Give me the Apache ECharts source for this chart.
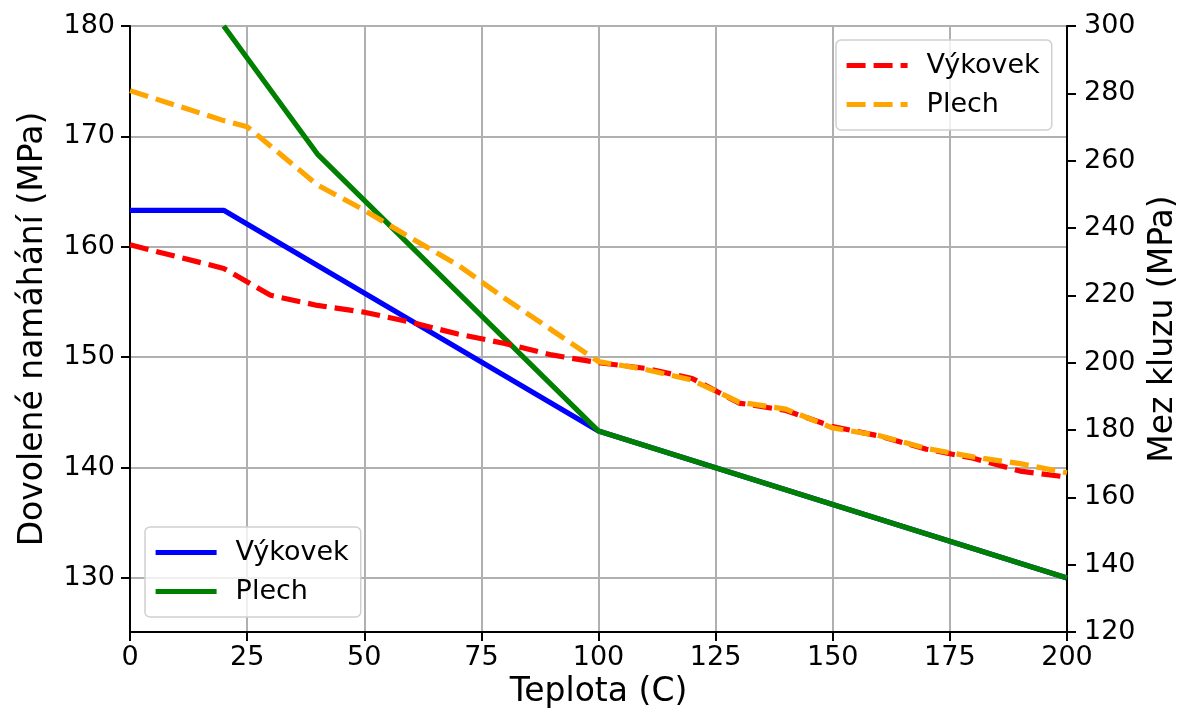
<!DOCTYPE html>
<html>
<head>
<meta charset="utf-8">
<script src="https://cdn.jsdelivr.net/npm/echarts@6/dist/echarts.min.js"></script>
<style>
html,body{margin:0;padding:0;background:#fff;}
#chart{width:1182px;height:722px;}
</style>
</head>
<body>
<div id="chart"></div>
<script>
// ---- data ----
const forgingAllowT = [0, 20, 100, 200];
const forgingAllowV = [163.3, 163.3, 143.3, 130];
const plateAllowT = [20, 40, 100, 200];
const plateAllowV = [180, 168.4, 143.3, 130];

const forgingYieldT = [0, 20, 30, 40, 50, 60, 70, 80, 90, 100, 110, 120, 130, 140, 150, 160, 170, 180, 190, 200];
const forgingYieldV = [235, 228, 220, 217, 215, 212, 208.5, 205.7, 202.3, 200, 198.3, 195.3, 188, 185.8, 181, 178.2, 174.3, 171.6, 167.8, 166];
const plateYieldT = [0, 20, 25, 40, 50, 60, 70, 80, 90, 100, 110, 120, 130, 140, 150, 160, 170, 180, 190, 200];
const plateYieldV = [280.8, 271.9, 270.1, 252.8, 245.3, 237, 229, 219.1, 209.7, 200.3, 198, 194.8, 188.3, 186.2, 180.6, 178.3, 174.5, 172, 170, 167.3];

const leftTicks = [130, 140, 150, 160, 170, 180];
const rightTicks = [120, 140, 160, 180, 200, 220, 240, 260, 280, 300];
const xTicks = [0, 25, 50, 75, 100, 125, 150, 175, 200];

const nameForging = 'Výkovek';
const namePlate = 'Plech';
const yieldSuffix = ' – mez kluzu';

function pairs(t, v) { return t.map((x, i) => [x, v[i]]); }

const FONT = 'DejaVu Sans';
const chart = echarts.init(document.getElementById('chart'), null, {renderer: 'canvas'});

const lineW = 5.2;
const dash = [19, 8];

const legendCommon = {
  orient: 'vertical',
  itemWidth: 61, itemHeight: 27, itemGap: 12,
  padding: [12, 12, 12, 8],
  backgroundColor: 'rgba(255,255,255,0.8)',
  borderColor: '#d0d0d0', borderWidth: 1.5, borderRadius: 5,
  itemStyle: {opacity: 0},
  lineStyle: {width: lineW},
  textStyle: {fontFamily: FONT, fontSize: 27, color: '#000', padding: [0, 0, 0, 14]},
  selectedMode: false
};

chart.setOption({
  animation: false,
  backgroundColor: '#ffffff',
  textStyle: {fontFamily: FONT},
  grid: {
    left: 130, right: 115, top: 26, bottom: 90,
    containLabel: false, outerBoundsMode: 'none',
    show: true, borderColor: '#000', borderWidth: 2, backgroundColor: 'transparent'
  },
  legend: [
    Object.assign({}, legendCommon, {
      data: [nameForging, namePlate],
      left: 145, top: 527
    }),
    Object.assign({}, legendCommon, {
      data: [nameForging + yieldSuffix, namePlate + yieldSuffix],
      formatter: n => n.replace(yieldSuffix, ''),
      left: 836, top: 40
    })
  ],
  xAxis: {
    type: 'value', min: xTicks[0], max: xTicks[xTicks.length - 1], interval: 25,
    name: 'Teplota (C)', nameLocation: 'middle', nameGap: 36,
    nameTextStyle: {fontFamily: FONT, fontSize: 33, color: '#000'},
    axisLine: {show: true, onZero: false, lineStyle: {color: '#000', width: 2}},
    axisTick: {show: true, inside: false, length: 9, lineStyle: {color: '#000', width: 2}},
    axisLabel: {fontFamily: FONT, fontSize: 27, color: '#000', margin: 12},
    splitLine: {show: true, lineStyle: {color: '#b0b0b0', width: 2}}
  },
  yAxis: [
    {
      type: 'value', position: 'left', min: 125.1, max: 180,
      name: 'Dovolené namáhání (MPa)', nameLocation: 'middle', nameGap: 80, nameRotate: 90,
      nameTextStyle: {fontFamily: FONT, fontSize: 33, color: '#000'},
      axisLine: {show: true, onZero: false, lineStyle: {color: '#000', width: 2}},
      axisTick: {show: true, length: 9, lineStyle: {color: '#000', width: 2}, customValues: leftTicks},
      axisLabel: {fontFamily: FONT, fontSize: 27, color: '#000', margin: 15, customValues: leftTicks},
      splitLine: {show: true, lineStyle: {color: '#b0b0b0', width: 2}}
    },
    {
      type: 'value', position: 'right', min: rightTicks[0], max: rightTicks[rightTicks.length - 1], interval: 20,
      name: 'Mez kluzu (MPa)', nameLocation: 'middle', nameGap: 80, nameRotate: 90,
      nameTextStyle: {fontFamily: FONT, fontSize: 33, color: '#000'},
      axisLine: {show: true, onZero: false, lineStyle: {color: '#000', width: 2}},
      axisTick: {show: true, length: 9, lineStyle: {color: '#000', width: 2}},
      axisLabel: {fontFamily: FONT, fontSize: 27, color: '#000', margin: 17},
      splitLine: {show: false}
    }
  ],
  series: [
    {
      name: nameForging, type: 'line', yAxisIndex: 0, data: pairs(forgingAllowT, forgingAllowV),
      showSymbol: false, symbol: 'none', clip: true,
      lineStyle: {color: '#0000ff', width: lineW}, itemStyle: {color: '#0000ff'}, z: 2
    },
    {
      name: namePlate, type: 'line', yAxisIndex: 0, data: pairs(plateAllowT, plateAllowV),
      showSymbol: false, symbol: 'none', clip: true,
      lineStyle: {color: '#008000', width: lineW}, itemStyle: {color: '#008000'}, z: 3
    },
    {
      name: nameForging + yieldSuffix, type: 'line', yAxisIndex: 1, data: pairs(forgingYieldT, forgingYieldV),
      showSymbol: false, symbol: 'none', clip: true,
      lineStyle: {color: '#ff0000', width: lineW, type: dash}, itemStyle: {color: '#ff0000'}, z: 4
    },
    {
      name: namePlate + yieldSuffix, type: 'line', yAxisIndex: 1, data: pairs(plateYieldT, plateYieldV),
      showSymbol: false, symbol: 'none', clip: true,
      lineStyle: {color: '#ffa500', width: lineW, type: dash}, itemStyle: {color: '#ffa500'}, z: 5
    }
  ]
});
</script>
</body>
</html>
